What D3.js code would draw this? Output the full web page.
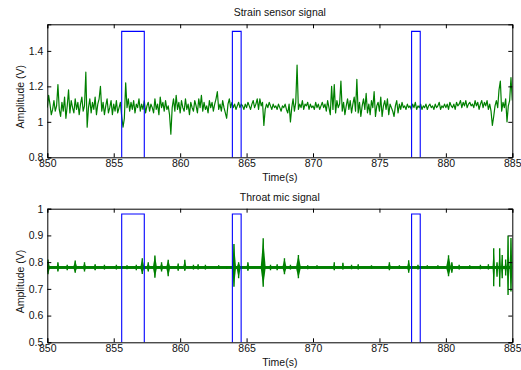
<!DOCTYPE html>
<html>
<head>
<meta charset="utf-8">
<script src="https://cdn.jsdelivr.net/npm/d3@7"></script>
<style>
  body { margin: 0; background: #fff; }
  svg { font-family: "Liberation Sans", Arial, sans-serif; }
  .axis text { font-size: 10.5px; fill: #111; }
  .axis path, .axis line { stroke: #000; }
</style>
</head>
<body>
<div id="chart"></div>
<script>
const strainStart = 850;
const strainStep = 0.1;
const strainValues = [
  1.08,1.15,1.10,1.04,1.07,1.12,1.06,1.09,1.21,1.07,
  1.03,1.11,1.06,1.14,1.02,1.09,1.18,1.05,1.12,1.08,
  1.05,1.13,1.07,1.11,1.04,1.10,1.14,1.06,1.09,1.28,
  0.97,1.08,1.13,1.05,1.11,1.07,1.14,1.04,1.10,1.13,
  1.20,1.06,1.11,1.04,1.09,1.13,1.05,1.08,1.12,1.04,
  1.10,1.06,1.12,1.05,1.08,1.11,1.03,0.97,1.02,1.22,
  1.08,1.13,1.06,1.11,1.07,1.12,1.05,1.10,1.08,1.13,
  1.06,1.10,1.07,1.12,1.05,1.09,1.11,1.06,1.10,1.08,
  1.05,1.13,1.07,1.10,1.04,1.14,1.08,1.11,1.06,1.12,
  1.07,1.09,1.04,0.93,1.08,1.13,1.06,1.15,1.07,1.11,
  1.05,1.12,1.08,1.06,1.13,1.07,1.10,1.04,1.11,1.08,
  1.06,1.12,1.09,1.05,1.13,1.08,1.15,1.06,1.11,1.07,
  1.09,1.05,1.12,1.08,1.11,1.06,1.10,1.13,1.17,1.07,
  1.10,1.06,1.12,1.08,1.05,1.02,1.10,1.13,1.08,1.11,
  1.08,1.10,1.07,1.09,1.11,1.08,1.10,1.09,1.07,1.10,
  1.08,1.11,1.09,1.07,1.10,1.12,1.08,1.10,1.13,1.07,
  1.13,1.09,1.11,0.98,1.07,1.10,1.08,1.11,1.09,1.07,
  1.10,1.08,1.09,1.07,1.10,1.08,1.06,1.09,1.08,1.10,
  1.07,1.05,1.10,1.00,1.08,1.13,1.06,1.11,1.32,1.07,
  1.10,1.08,1.12,1.07,1.10,1.09,1.11,1.07,1.10,1.08,
  1.09,1.07,1.11,1.08,1.10,1.07,1.09,1.11,1.08,1.10,
  1.06,1.12,1.08,1.04,1.20,1.07,1.21,1.05,1.12,1.08,
  1.10,1.23,1.06,1.11,1.04,1.09,1.13,1.07,1.12,1.05,
  1.10,1.14,1.06,1.24,1.05,1.11,1.03,1.09,1.13,1.07,
  1.16,1.05,1.10,1.04,1.12,1.08,1.17,1.03,1.09,1.11,
  1.06,1.14,1.03,1.09,1.12,1.07,1.13,1.04,1.10,1.08,
  1.06,1.03,1.09,1.12,1.05,1.10,1.07,1.11,1.08,1.09,
  1.07,1.10,1.08,1.09,1.07,1.10,1.08,1.11,1.07,1.09,
  1.08,1.10,1.07,1.09,1.08,1.10,1.07,1.09,1.10,1.08,
  1.09,1.07,1.10,1.08,1.09,1.11,1.07,1.09,1.08,1.10,
  1.08,1.10,1.07,1.11,1.09,1.08,1.10,1.07,1.11,1.09,
  1.10,1.12,1.08,1.11,1.09,1.12,1.08,1.10,1.11,1.09,
  1.10,1.08,1.12,1.09,1.11,1.07,1.10,1.12,1.08,1.11,
  1.09,1.12,1.07,1.10,1.06,0.98,1.03,1.09,1.12,1.08,
  1.18,1.23,1.06,1.11,1.08,1.13,1.00,1.09,1.12,1.25,
  1.12
];

// throat mic: resting level and noise band, plus bursts [time, high, low, half width]
const micBase = 0.78;
const micBand = [0.7745, 0.7855];
const micBursts = [
  [850.05,0.810,0.755,0.16],[850.8,0.800,0.765,0.12],[851.5,0.790,0.770,0.10],
  [852.1,0.806,0.760,0.16],[852.8,0.800,0.765,0.13],[853.6,0.792,0.770,0.12],
  [854.3,0.790,0.772,0.09],[855.2,0.790,0.772,0.09],[856.0,0.788,0.773,0.08],
  [856.7,0.790,0.770,0.08],[857.15,0.815,0.756,0.16],[857.6,0.800,0.765,0.13],
  [858.1,0.825,0.742,0.16],[858.6,0.800,0.765,0.13],[859.1,0.809,0.747,0.16],
  [859.85,0.795,0.768,0.10],[860.35,0.809,0.768,0.13],[861.0,0.790,0.772,0.08],
  [861.35,0.792,0.772,0.10],[861.9,0.790,0.772,0.08],[862.9,0.788,0.774,0.08],
  [863.5,0.786,0.775,0.08],[864.05,0.868,0.708,0.16],[864.4,0.800,0.740,0.16],
  [865.1,0.800,0.768,0.13],[866.25,0.889,0.708,0.19],[866.8,0.790,0.770,0.08],
  [867.3,0.792,0.770,0.08],[867.85,0.815,0.755,0.16],[868.3,0.790,0.772,0.08],
  [868.9,0.827,0.740,0.19],[869.6,0.788,0.773,0.08],[870.3,0.788,0.774,0.08],
  [871.6,0.800,0.770,0.10],[872.25,0.798,0.772,0.10],[872.9,0.790,0.773,0.08],
  [873.4,0.792,0.772,0.08],[874.4,0.788,0.774,0.08],[875.75,0.800,0.770,0.13],
  [876.5,0.788,0.774,0.08],[877.2,0.807,0.760,0.13],[877.9,0.790,0.772,0.08],
  [878.6,0.788,0.774,0.08],[879.4,0.788,0.774,0.08],[880.2,0.826,0.747,0.19],
  [880.45,0.800,0.760,0.13],[881.0,0.790,0.772,0.08],[881.8,0.788,0.774,0.08],
  [882.6,0.790,0.773,0.08],[883.2,0.792,0.772,0.08],[883.6,0.852,0.710,0.09],
  [883.85,0.800,0.745,0.09],[884.05,0.852,0.708,0.09],[884.24,0.827,0.740,0.09],
  [884.5,0.810,0.750,0.09],[884.68,0.900,0.677,0.09],[884.9,0.890,0.690,0.12]
];

// annotated intervals (blue square pulses)
const pulseStarts = [855.6, 863.93, 877.42];
const pulseEnds = [857.3, 864.59, 878.07];
const strainPulseHigh = 1.51;
const micPulseHigh = 0.98;

const xTicks = [850, 855, 860, 865, 870, 875, 880, 885];
const strainTicks = [0.8, 1, 1.2, 1.4];
const micTicks = [0.5, 0.6, 0.7, 0.8, 0.9, 1];

const width = 521, height = 370;
const svg = d3.select('#chart').append('svg')
  .attr('width', width).attr('height', height);

const left = 47.3, right = 512.3;
const x = d3.scaleLinear().domain([850, 885]).range([left, right]);

function pulsePath(high, low) {
  const pts = [[850, low]];
  pulseStarts.forEach((s, i) => {
    pts.push([s, low], [s, high], [pulseEnds[i], high], [pulseEnds[i], low]);
  });
  pts.push([885, low]);
  return pts;
}

function panel(opts) {
  const y = d3.scaleLinear().domain(opts.domain).range([opts.bottom, opts.top]);
  const g = svg.append('g');
  const clipId = 'clip' + opts.id;
  svg.append('clipPath').attr('id', clipId).append('rect')
    .attr('x', left).attr('y', opts.top)
    .attr('width', right - left).attr('height', opts.bottom - opts.top);

  const plot = g.append('g').attr('clip-path', `url(#${clipId})`);
  opts.draw(plot, y);

  // blue pulses
  const line = d3.line().x(d => x(d[0])).y(d => y(d[1]));
  plot.append('path')
    .attr('d', line(pulsePath(opts.pulseHigh, opts.domain[0] - 1)))
    .attr('fill', 'none').attr('stroke', '#0000ff').attr('stroke-width', 1.1);

  const fmt = d => String(+d.toFixed(1));
  g.append('g').attr('class', 'axis')
    .attr('transform', `translate(0,${opts.bottom})`)
    .call(d3.axisBottom(x).tickValues(xTicks).tickSize(-4).tickPadding(2.5).tickFormat(d3.format('d')));
  g.append('g').attr('class', 'axis')
    .attr('transform', `translate(0,${opts.top})`)
    .call(d3.axisTop(x).tickValues(xTicks).tickSize(-4).tickFormat(''));
  g.append('g').attr('class', 'axis')
    .attr('transform', `translate(${left},0)`)
    .call(d3.axisLeft(y).tickValues(opts.ticks).tickSize(-4).tickPadding(4).tickFormat(fmt));
  g.append('g').attr('class', 'axis')
    .attr('transform', `translate(${right},0)`)
    .call(d3.axisRight(y).tickValues(opts.ticks).tickSize(-4).tickFormat(''));
  g.selectAll('.axis .domain').attr('stroke-width', 1);

  g.append('text').attr('x', (left + right) / 2).attr('y', opts.top - 8)
    .attr('text-anchor', 'middle').attr('font-size', 10.5).attr('fill', '#111')
    .text(opts.title);
  g.append('text').attr('x', (left + right) / 2).attr('y', opts.bottom + 23.5)
    .attr('text-anchor', 'middle').attr('font-size', 10.5).attr('fill', '#111')
    .text('Time(s)');
  g.append('text')
    .attr('transform', `translate(24,${(opts.top + opts.bottom) / 2 + 6}) rotate(-90)`)
    .attr('text-anchor', 'middle').attr('font-size', 10.5).attr('fill', '#111')
    .text('Amplitude (V)');
}

panel({
  id: 'a', top: 24.3, bottom: 157.3, domain: [0.8, 1.55], ticks: strainTicks,
  title: 'Strain sensor signal', pulseHigh: strainPulseHigh,
  draw: (plot, y) => {
    const line = d3.line()
      .x((d, i) => x(strainStart + i * strainStep))
      .y(d => y(d));
    plot.append('path').datum(strainValues)
      .attr('d', line)
      .attr('fill', 'none').attr('stroke', '#008000').attr('stroke-width', 1.2)
      .attr('stroke-linejoin', 'round');
  }
});

panel({
  id: 'b', top: 208.7, bottom: 342.3, domain: [0.5, 1], ticks: micTicks,
  title: 'Throat mic signal', pulseHigh: micPulseHigh,
  draw: (plot, y) => {
    plot.append('rect')
      .attr('x', x(850)).attr('width', x(885) - x(850))
      .attr('y', y(micBand[1])).attr('height', y(micBand[0]) - y(micBand[1]))
      .attr('fill', '#008000');
    const area = d3.area().x(d => x(d[0])).y0(d => y(d[1])).y1(d => y(d[2]));
    plot.selectAll('path.burst').data(micBursts).join('path')
      .attr('class', 'burst')
      .attr('d', d => area([[d[0] - d[3], micBase, micBase], [d[0], d[1], d[2]], [d[0] + d[3], micBase, micBase]]))
      .attr('fill', '#008000');
    plot.selectAll('line.burst').data(micBursts).join('line')
      .attr('class', 'burst')
      .attr('x1', d => x(d[0])).attr('x2', d => x(d[0]))
      .attr('y1', d => y(d[1])).attr('y2', d => y(d[2]))
      .attr('stroke', '#008000').attr('stroke-width', 1.4);
  }
});
</script>
</body>
</html>
